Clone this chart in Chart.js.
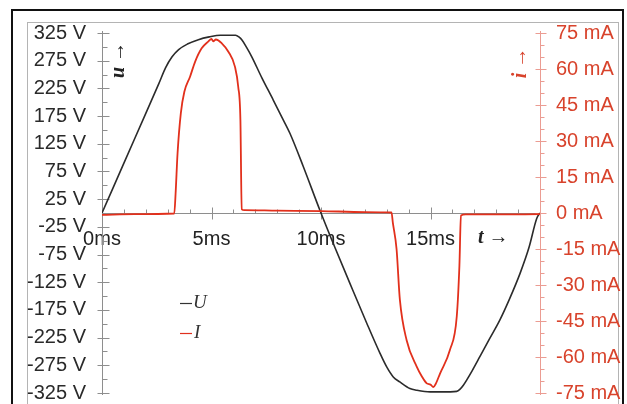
<!DOCTYPE html>
<html>
<head>
<meta charset="utf-8">
<script src="https://cdn.jsdelivr.net/npm/chart.js@4"></script>
<style>
  html, body { margin: 0; padding: 0; background: #fff; }
  #wrap { width: 627px; height: 404px; }
</style>
</head>
<body>
<div id="wrap"><canvas id="chart" width="627" height="404"></canvas></div>
<script>
// voltage U (V) over time (ms)
const timeU = [0, 0.5, 1, 1.5, 2, 2.6, 2.9, 3.2, 3.5, 3.9, 4.4, 4.9, 5.4, 6.1, 6.25, 6.4, 6.6, 6.84, 7.3, 7.82, 8.2, 8.58, 9.19, 9.95,
               10.56, 11.32, 12.09, 12.69, 13.0, 13.3, 13.6, 14.06, 14.37, 14.98, 15.5, 16.2, 16.35, 16.5, 16.9, 17.26, 17.7, 18.17, 18.6, 19.09, 19.5, 19.85, 20];
const voltU = [0, 45, 90, 135, 180, 234, 262, 282, 295, 305, 313, 318, 321, 321, 318, 312, 299, 282, 244, 204, 174, 144, 84, 5,
               -55, -127, -199, -253, -278, -296, -305, -317, -320, -323, -323, -322, -318, -311, -285, -259, -227, -193, -156, -109, -62, -10, 0];

// current I (mA) over time (ms)
const timeI = [0, 1.5, 3.3, 3.36, 3.45, 3.6, 3.76, 4.02, 4.25, 4.55, 4.85, 5.0, 5.08, 5.2, 5.47, 5.77, 6.07, 6.22, 6.32, 6.38, 6.5, 8, 10, 12, 13.22,
               13.28, 13.45, 13.6, 13.91, 14.37, 14.6, 14.83, 15.0, 15.13, 15.25, 15.43, 15.89, 16.2, 16.32, 16.39, 16.6, 18, 20];
const currI = [-0.8, -0.5, -0.2, 8, 24.9, 41.6, 50.5, 56.8, 63, 68.6, 71.4, 72.5, 71.5, 72.3, 70.7, 67.2, 61, 52.6, 38.8, 1.5, 1.2, 1.0, 0.8, 0.4, 0.2,
               -4, -15, -36, -53, -64, -68, -71, -71.5, -72.5, -71, -67, -57, -43, -22, -1, -0.6, -0.6, -0.5];

const voltRange = [-325, 325, 50];
const currRange = [-75, 75, 15];
const timeRange = [0, 20, 5];

const labelFont = { family: '"Liberation Sans", Arial, sans-serif', size: 20 };

function line(ctx, x1, y1, x2, y2) {
    ctx.beginPath();
    ctx.moveTo(x1, y1);
    ctx.lineTo(x2, y2);
    ctx.stroke();
}

// y axes: fixed width, no label overhang padding
function fixAxis(width) {
    return s => {
        s.width = width;
        s.paddingTop = 0;
        s.paddingBottom = 0;
    };
}

const framePlugin = {
    id: 'frame',
    beforeDraw(chart) {
        const ctx = chart.ctx;
        ctx.save();
        ctx.fillStyle = '#fff';
        ctx.fillRect(0, 0, chart.width, chart.height);
        ctx.strokeStyle = '#111';
        ctx.lineWidth = 2;
        ctx.strokeRect(12, 10, 611, 410);
        ctx.strokeStyle = '#b4b4b4';
        ctx.lineWidth = 1;
        ctx.strokeRect(27.5, 22.5, 591, 400);
        ctx.restore();
    }
};

const axesPlugin = {
    id: 'axesLines',
    beforeDatasetsDraw(chart) {
        const { ctx, chartArea: a, scales: { x, y, y1 } } = chart;
        const y0 = Math.round(y.getPixelForValue(0)) + 0.5;
        const xl = Math.round(a.left) + 0.5;
        const xr = Math.round(a.right) + 0.5;
        ctx.save();
        ctx.lineWidth = 1;

        ctx.strokeStyle = '#8e8e8e';
        line(ctx, xl, a.top - 2, xl, a.bottom + 2);
        for (let v = voltRange[0]; v <= voltRange[1]; v += voltRange[2] / 2) {
            const p = Math.round(y.getPixelForValue(v)) + 0.5;
            if ((v - voltRange[0]) % voltRange[2] === 0) line(ctx, xl - 5, p, xl + 7, p);
            else line(ctx, xl, p, xl + 5, p);
        }

        line(ctx, xl, y0, xr, y0);
        for (let t = timeRange[0]; t <= timeRange[1]; t += 1) {
            const p = Math.round(x.getPixelForValue(t)) + 0.5;
            if (t % timeRange[2] === 0) line(ctx, p, y0 - 6, p, y0 + 6);
            else line(ctx, p, y0 - 4, p, y0);
        }

        ctx.strokeStyle = '#eb9c92';
        line(ctx, xr, a.top - 2, xr, a.bottom + 2);
        for (let v = currRange[0]; v <= currRange[1]; v += currRange[2] / 3) {
            const p = Math.round(y1.getPixelForValue(v)) + 0.5;
            if (Math.round(v - currRange[0]) % currRange[2] === 0) line(ctx, xr - 5, p, xr + 6, p);
            else line(ctx, xr, p, xr + 4, p);
        }
        ctx.restore();
    }
};

const textPlugin = {
    id: 'extraText',
    afterDraw(chart) {
        const ctx = chart.ctx;
        ctx.save();
        ctx.textBaseline = 'middle';
        ctx.textAlign = 'center';

        ctx.font = 'italic bold 20px "Liberation Serif", serif';
        ctx.fillStyle = '#222';
        ctx.save();
        ctx.translate(119, 60);
        ctx.rotate(-Math.PI / 2);
        ctx.fillText('u \u2192', 0, 0);
        ctx.restore();

        ctx.fillStyle = '#d8432c';
        ctx.save();
        ctx.translate(521, 63);
        ctx.rotate(-Math.PI / 2);
        ctx.fillText('i \u2192', 0, 0);
        ctx.restore();

        ctx.fillStyle = '#222';
        ctx.textAlign = 'left';
        ctx.fillText('t \u2192', 478, 238);

        // legend
        ctx.font = 'italic 19px "Liberation Serif", serif';
        ctx.lineWidth = 1.2;
        ctx.strokeStyle = '#333';
        line(ctx, 180, 303.5, 192, 303.5);
        ctx.fillStyle = '#333';
        ctx.fillText('U', 193, 303);
        ctx.strokeStyle = '#e0301e';
        line(ctx, 180, 333.5, 192, 333.5);
        ctx.fillStyle = '#333';
        ctx.fillText('I', 194, 333);
        ctx.restore();
    }
};

const uData = timeU.map((t, i) => ({ x: t, y: voltU[i] }));
const iData = timeI.map((t, i) => ({ x: t, y: currI[i] }));

new Chart(document.getElementById('chart'), {
    type: 'line',
    data: {
        datasets: [
            {
                label: 'U',
                data: uData,
                yAxisID: 'y',
                borderColor: '#2b2b2b',
                borderWidth: 1.6,
                pointRadius: 0,
                cubicInterpolationMode: 'monotone',
                order: 1
            },
            {
                label: 'I',
                data: iData,
                yAxisID: 'y1',
                borderColor: '#e2301c',
                borderWidth: 1.8,
                pointRadius: 0,
                cubicInterpolationMode: 'monotone',
                order: 0
            }
        ]
    },
    options: {
        responsive: false,
        animation: false,
        layout: { padding: { left: 0, right: 0, top: 33, bottom: 11 } },
        plugins: { legend: { display: false }, tooltip: { enabled: false } },
        scales: {
            x: {
                type: 'linear',
                position: { y: 0 },
                min: timeRange[0],
                max: timeRange[1],
                grid: { display: false, drawTicks: false },
                border: { display: false },
                ticks: {
                    stepSize: timeRange[2],
                    maxRotation: 0,
                    padding: 14,
                    color: '#222',
                    font: labelFont,
                    callback: v => v === timeRange[1] ? '' : v + 'ms'
                }
            },
            y: {
                position: 'left',
                min: voltRange[0],
                max: voltRange[1],
                grid: { display: false, drawTicks: false },
                border: { display: false },
                afterFit: fixAxis(102),
                ticks: {
                    stepSize: voltRange[2],
                    padding: 16,
                    color: '#2a2a2a',
                    font: labelFont,
                    callback: v => v + ' V'
                }
            },
            y1: {
                position: 'right',
                min: currRange[0],
                max: currRange[1],
                grid: { display: false, drawTicks: false },
                border: { display: false },
                afterFit: fixAxis(87),
                ticks: {
                    stepSize: currRange[2],
                    padding: 16,
                    color: '#d8432c',
                    font: labelFont,
                    callback: v => v + ' mA'
                }
            }
        }
    },
    plugins: [framePlugin, axesPlugin, textPlugin]
});
</script>
</body>
</html>
